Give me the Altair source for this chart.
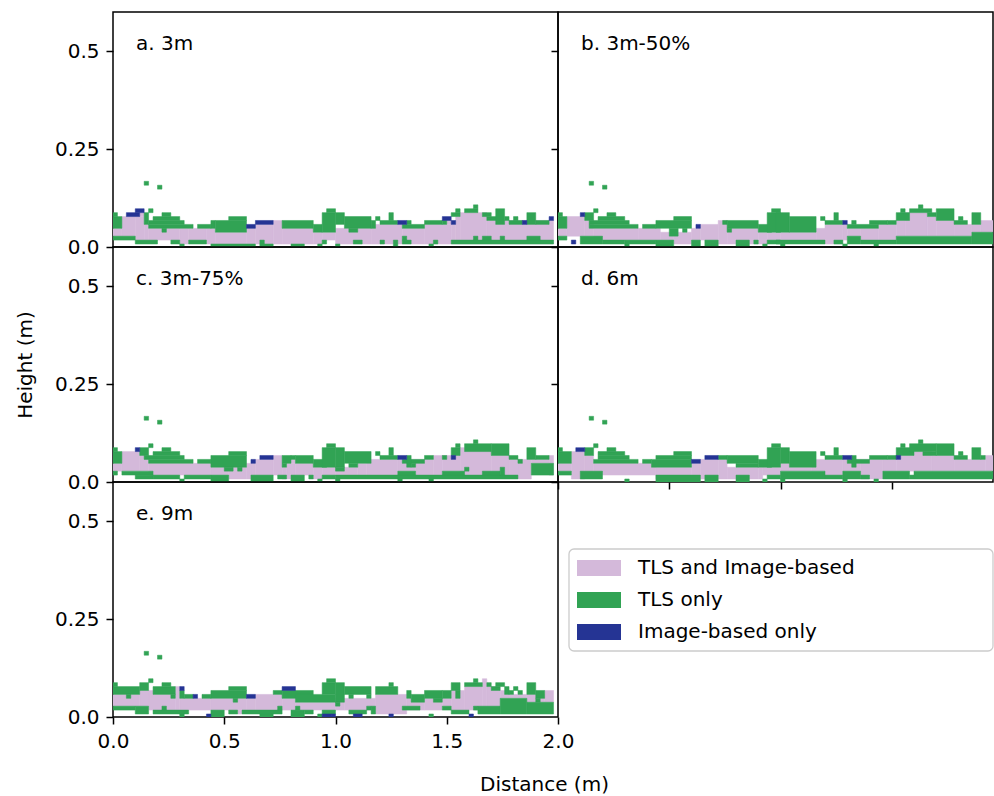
import altair as alt
import pandas as pd

FONT = "DejaVu Sans"

# grid geometry (metres)
CELL_W = 0.02
CELL_H = 0.01
GRID_Y0 = -0.0023

CLASSES = ["TLS and Image-based", "TLS only", "Image-based only"]
COLORS = ["#d4b9da", "#31a354", "#253494"]
PANEL_LABELS = {"a": "a. 3m", "b": "b. 3m-50%", "c": "c. 3m-75%", "d": "d. 6m", "e": "e. 9m"}

Y_TICKS = [0, 0.25, 0.5]
X_TICKS = [0, 0.5, 1.0, 1.5, 2.0]
X_TICKS_D = [0, 0.5, 1.0, 1.5]
Y_MAX = 0.6
X_MAX_LEFT = 2.0
X_MAX_RIGHT = 1.955

# runs of cells: (first column, last column, first row, last row)
OUTLIERS = [(7, 7, 16, 16), (10, 10, 15, 15)]

A_BOTH = [(0, 1, 3, 4), (2, 4, 3, 7), (5, 6, 2, 7), (6, 6, 8, 8), (7, 7, 2, 5), (8, 14, 2, 4), (15, 16, 1, 4),
          (17, 20, 2, 4), (21, 22, 1, 4), (23, 29, 1, 3), (30, 31, 1, 4), (32, 35, 1, 5), (36, 37, 1, 6),
          (38, 44, 1, 4), (45, 46, 1, 3), (47, 49, 2, 3), (50, 57, 1, 4), (58, 64, 1, 5), (65, 69, 1, 4),
          (70, 75, 1, 5), (75, 75, 6, 6), (76, 76, 1, 5), (77, 77, 1, 7), (78, 83, 1, 8), (84, 98, 1, 6)]
A_TLS = [(0, 1, 5, 7), (0, 0, 8, 8), (7, 7, 6, 8), (8, 8, 9, 9), (8, 17, 5, 5), (8, 15, 6, 6), (9, 14, 7, 7),
         (11, 12, 8, 8), (11, 11, 4, 4), (19, 21, 5, 5), (22, 22, 5, 6), (23, 29, 4, 6), (26, 29, 7, 7),
         (38, 44, 5, 6), (45, 46, 4, 5), (47, 49, 4, 8), (48, 49, 9, 9), (50, 51, 6, 8), (52, 57, 5, 7),
         (53, 54, 4, 4), (58, 58, 5, 6), (59, 59, 7, 7), (60, 63, 6, 6), (62, 62, 7, 8), (65, 69, 5, 5),
         (66, 66, 6, 6), (70, 73, 6, 6), (74, 74, 6, 6), (76, 77, 8, 8), (77, 77, 9, 9), (79, 81, 9, 9),
         (81, 81, 10, 10), (83, 84, 8, 8), (84, 86, 7, 7), (86, 87, 6, 9), (88, 88, 7, 7), (89, 91, 6, 6),
         (90, 90, 7, 7), (93, 94, 6, 8), (95, 97, 6, 6),
         (0, 4, 2, 2), (5, 9, 1, 1), (13, 14, 1, 1), (15, 15, 0, 0), (17, 20, 1, 1), (22, 31, 0, 0),
         (33, 33, 1, 1), (33, 35, 0, 0), (40, 42, 0, 0), (46, 46, 0, 0), (47, 47, 1, 1), (50, 50, 0, 0),
         (54, 55, 1, 1), (60, 60, 1, 1), (63, 63, 0, 1), (65, 66, 1, 1), (65, 65, 2, 2), (71, 71, 0, 0),
         (72, 72, 1, 1), (76, 98, 1, 1), (81, 81, 2, 2), (83, 84, 2, 2), (87, 87, 2, 2), (93, 95, 2, 2)] + OUTLIERS
A_IMG = [(3, 5, 8, 8), (5, 6, 9, 9), (30, 31, 5, 5), (32, 35, 6, 6), (64, 65, 6, 6), (74, 75, 7, 7),
         (76, 76, 6, 6), (92, 92, 6, 6), (98, 98, 7, 7)]

B_BOTH = [(0, 1, 3, 4), (2, 5, 3, 7), (6, 7, 3, 6), (8, 17, 2, 4), (18, 22, 2, 4), (23, 25, 2, 3), (26, 29, 1, 3),
          (30, 31, 2, 4), (32, 35, 2, 5), (36, 37, 1, 6), (38, 44, 1, 4), (45, 46, 1, 3), (47, 49, 2, 3),
          (50, 57, 2, 3), (58, 59, 2, 4), (60, 63, 1, 5), (64, 64, 2, 5), (65, 67, 3, 4), (68, 71, 2, 4),
          (72, 75, 2, 5), (76, 77, 3, 6), (78, 82, 3, 8), (83, 84, 3, 7), (85, 88, 3, 6), (89, 92, 3, 5),
          (93, 94, 4, 5), (95, 98, 4, 6)]
B_TLS = [(0, 1, 5, 7), (0, 0, 8, 8), (6, 7, 7, 8), (8, 8, 9, 9), (7, 17, 5, 5), (7, 15, 6, 6), (9, 14, 7, 7),
         (11, 12, 8, 8), (19, 21, 5, 5), (22, 29, 5, 6), (26, 29, 7, 7), (25, 26, 3, 4), (28, 28, 4, 4),
         (37, 37, 6, 6), (38, 44, 5, 6), (38, 38, 4, 4), (45, 47, 4, 5), (47, 49, 4, 8), (48, 49, 9, 9),
         (49, 51, 4, 8), (52, 57, 4, 7), (59, 59, 7, 7), (60, 63, 6, 6), (62, 62, 7, 8), (65, 71, 5, 5),
         (66, 66, 6, 6), (70, 73, 6, 6), (74, 75, 6, 6), (76, 78, 7, 8), (77, 77, 9, 9), (79, 83, 9, 9),
         (81, 81, 10, 10), (83, 84, 8, 8), (85, 88, 7, 9), (89, 91, 6, 6), (90, 90, 7, 7), (93, 94, 6, 8),
         (0, 1, 2, 2), (5, 9, 1, 2), (10, 14, 1, 1), (15, 15, 0, 0), (15, 21, 1, 1), (22, 25, 0, 1),
         (30, 31, 0, 1), (33, 35, 0, 1), (40, 42, 0, 1), (44, 44, 1, 1), (46, 46, 0, 0), (47, 49, 1, 1),
         (49, 59, 1, 1), (50, 50, 0, 0), (62, 63, 1, 1), (64, 64, 0, 0), (65, 67, 1, 2), (68, 75, 1, 1),
         (71, 71, 0, 0), (76, 92, 1, 2), (93, 98, 1, 3)] + OUTLIERS
B_IMG = [(5, 5, 8, 8), (3, 3, 1, 1), (31, 31, 5, 5), (64, 64, 6, 6)]

C_BOTH = [(0, 1, 3, 4), (2, 5, 3, 7), (6, 7, 3, 6), (8, 21, 2, 4), (22, 25, 2, 3), (26, 29, 1, 3), (30, 30, 1, 4),
          (31, 31, 2, 4), (32, 35, 2, 5), (36, 37, 2, 6), (38, 38, 1, 3), (39, 40, 1, 4), (40, 40, 5, 5),
          (41, 44, 2, 4), (45, 46, 1, 3), (47, 49, 2, 3),
          (50, 54, 2, 3), (55, 56, 2, 4), (57, 63, 2, 5), (64, 67, 3, 5), (68, 71, 2, 5), (72, 73, 2, 6),
          (74, 77, 3, 6), (78, 84, 2, 8), (85, 88, 2, 6), (89, 90, 2, 5), (91, 93, 1, 5), (94, 97, 5, 5),
          (98, 98, 2, 6)]
C_TLS = [(0, 1, 5, 7), (0, 0, 8, 8), (6, 7, 7, 8), (8, 8, 9, 9), (8, 17, 5, 5), (7, 15, 6, 6), (9, 14, 7, 7),
         (11, 12, 8, 8), (19, 21, 5, 5), (22, 29, 4, 6), (26, 29, 7, 7), (25, 26, 3, 3), (28, 28, 3, 3),
         (38, 39, 5, 6), (40, 40, 6, 6), (41, 44, 5, 6), (38, 38, 4, 4), (45, 47, 4, 5), (47, 49, 4, 8),
         (48, 49, 9, 9), (50, 51, 4, 8), (52, 57, 5, 7), (53, 54, 4, 4), (59, 59, 7, 7), (60, 63, 6, 6),
         (62, 62, 7, 8), (65, 69, 5, 5), (66, 66, 4, 6), (67, 67, 4, 4), (70, 71, 6, 6), (74, 74, 6, 6),
         (76, 77, 7, 8), (77, 77, 9, 9), (79, 84, 8, 9), (81, 81, 10, 10), (85, 88, 7, 9), (89, 90, 6, 6),
         (91, 91, 5, 5), (93, 94, 6, 8), (95, 97, 6, 6),
         (0, 0, 2, 2), (2, 8, 2, 2), (5, 8, 1, 1), (9, 14, 1, 1), (15, 15, 0, 0), (16, 21, 1, 1),
         (22, 25, 0, 1), (31, 35, 0, 1), (37, 38, 1, 1), (40, 42, 0, 1), (44, 44, 1, 1), (46, 46, 0, 0),
         (47, 49, 1, 1), (50, 51, 3, 3), (50, 90, 1, 1), (64, 67, 2, 2), (74, 78, 2, 2), (83, 86, 2, 2),
         (79, 79, 3, 3), (87, 87, 2, 3), (94, 98, 2, 4), (50, 50, 0, 0), (64, 64, 0, 0), (71, 71, 0, 0)] + OUTLIERS
C_IMG = [(5, 5, 8, 8), (31, 31, 5, 5), (33, 35, 6, 6), (64, 65, 6, 6), (76, 76, 6, 6)]

D_BOTH = [(0, 2, 3, 4), (3, 5, 1, 7), (6, 7, 2, 6), (8, 21, 2, 4), (22, 29, 1, 3), (30, 31, 1, 4), (32, 35, 1, 5),
          (36, 37, 1, 5), (38, 44, 1, 3), (45, 45, 1, 3), (46, 49, 2, 3),
          (50, 51, 3, 4), (52, 56, 3, 3), (57, 59, 3, 5), (60, 63, 2, 5), (64, 67, 3, 5), (68, 72, 1, 5),
          (73, 75, 3, 5), (76, 79, 3, 6), (80, 83, 3, 7), (84, 88, 3, 6), (89, 95, 3, 5), (96, 98, 3, 6)]
D_TLS = [(0, 2, 5, 7), (0, 0, 8, 8), (6, 7, 7, 8), (8, 8, 9, 9), (8, 17, 5, 5), (9, 15, 6, 6), (9, 14, 7, 7),
         (11, 12, 8, 8), (19, 20, 5, 5), (21, 29, 4, 5), (22, 29, 6, 6), (26, 29, 7, 7), (36, 37, 6, 6),
         (38, 44, 5, 6), (40, 44, 4, 4), (45, 47, 4, 5), (47, 49, 4, 8), (48, 49, 9, 9),
         (50, 51, 5, 8), (52, 57, 4, 7), (59, 59, 7, 7), (60, 63, 6, 6), (62, 62, 7, 8), (65, 69, 5, 5),
         (66, 66, 4, 6), (70, 73, 6, 6), (74, 75, 6, 6), (76, 79, 7, 8), (77, 77, 9, 9), (79, 84, 8, 9),
         (81, 81, 10, 10), (82, 84, 7, 7), (85, 88, 7, 9), (89, 91, 6, 6), (90, 90, 7, 7), (93, 94, 6, 8),
         (95, 95, 6, 6),
         (0, 2, 2, 2), (5, 9, 1, 2), (15, 15, 0, 0), (22, 31, 0, 1), (33, 35, 0, 1), (40, 42, 0, 1),
         (46, 46, 0, 0), (47, 49, 1, 1), (50, 59, 1, 2), (60, 63, 1, 1), (64, 67, 1, 2), (68, 69, 1, 1),
         (73, 78, 1, 2), (79, 79, 1, 1), (80, 98, 1, 2), (50, 50, 0, 0), (64, 64, 0, 0), (71, 71, 0, 0)] + OUTLIERS
D_IMG = [(4, 5, 8, 8), (30, 31, 5, 5), (33, 35, 6, 6), (64, 65, 6, 6), (76, 76, 6, 6)]

E_BOTH = [(0, 5, 3, 5), (6, 8, 3, 6), (8, 13, 2, 5), (14, 14, 2, 7), (15, 21, 2, 4), (22, 29, 2, 4), (28, 28, 1, 1),
          (30, 31, 2, 4), (32, 37, 2, 5), (38, 40, 2, 4), (41, 49, 2, 3),
          (50, 51, 2, 4), (52, 58, 2, 4), (59, 65, 1, 5), (66, 69, 2, 4), (70, 73, 2, 4), (74, 75, 3, 4),
          (76, 78, 2, 6), (79, 82, 2, 7), (83, 83, 2, 9), (84, 86, 2, 7), (87, 88, 5, 6), (89, 92, 5, 5),
          (93, 96, 4, 5), (97, 98, 4, 6)]
E_TLS = [(0, 0, 8, 8), (0, 5, 6, 7), (3, 3, 5, 5), (6, 7, 7, 8), (8, 8, 9, 9), (9, 13, 6, 7), (11, 12, 8, 8),
         (13, 13, 5, 5), (15, 15, 5, 6), (16, 17, 5, 5), (20, 21, 5, 5), (22, 29, 5, 6), (26, 29, 7, 7),
         (27, 27, 4, 4), (36, 37, 6, 6), (38, 44, 5, 6), (41, 49, 4, 5), (47, 49, 6, 8), (48, 49, 9, 9),
         (50, 51, 4, 8), (52, 57, 6, 7), (53, 53, 5, 5), (57, 57, 5, 5), (59, 63, 6, 7), (62, 62, 8, 8),
         (66, 66, 5, 6), (67, 69, 4, 5), (70, 73, 5, 6), (72, 73, 4, 4), (74, 75, 5, 6), (76, 77, 7, 8),
         (77, 77, 5, 6), (79, 82, 8, 8), (81, 81, 9, 9), (84, 84, 8, 8), (85, 86, 7, 7), (86, 87, 8, 8),
         (88, 88, 6, 7), (89, 89, 6, 6), (90, 90, 7, 7), (91, 91, 6, 6), (93, 94, 6, 8), (95, 96, 5, 6),
         (0, 4, 2, 2), (5, 7, 1, 2), (9, 16, 1, 1), (11, 11, 2, 2), (15, 15, 0, 0), (22, 24, 0, 1),
         (26, 27, 1, 1), (29, 37, 1, 1), (33, 35, 0, 0), (37, 37, 2, 2), (40, 42, 0, 1), (41, 41, 2, 2),
         (43, 44, 1, 1), (46, 46, 0, 0), (47, 49, 1, 1), (50, 50, 3, 3), (53, 56, 1, 1), (57, 57, 2, 2),
         (58, 58, 1, 2), (65, 68, 2, 2), (71, 71, 0, 0), (74, 75, 2, 2), (76, 79, 1, 1), (81, 81, 2, 2),
         (82, 86, 1, 2), (87, 92, 1, 4), (93, 98, 1, 3), (95, 95, 4, 4)] + OUTLIERS
E_IMG = [(15, 15, 7, 7), (18, 18, 5, 5), (30, 31, 5, 5), (38, 40, 7, 7), (21, 21, 0, 0), (47, 48, 0, 0),
         (49, 49, 0, 0), (54, 55, 0, 0), (62, 62, 0, 0), (80, 80, 0, 0)]

PANEL_RUNS = {
    "a": (A_BOTH, A_TLS, A_IMG),
    "b": (B_BOTH, B_TLS, B_IMG),
    "c": (C_BOTH, C_TLS, C_IMG),
    "d": (D_BOTH, D_TLS, D_IMG),
    "e": (E_BOTH, E_TLS, E_IMG),
}

rows = []
for key, groups in PANEL_RUNS.items():
    for order, (cls, runs) in enumerate(zip(CLASSES, groups)):
        for c0, c1, r0, r1 in runs:
            rows.append({
                "panel": key, "cls": cls, "order": order,
                "x": c0 * CELL_W, "x2": (c1 + 1) * CELL_W,
                "y": GRID_Y0 + r0 * CELL_H, "y2": GRID_Y0 + (r1 + 1) * CELL_H,
            })
cells = pd.DataFrame(rows).sort_values("order", kind="stable")

LEFT_W, RIGHT_W, PANEL_H = 445, 435, 235

color_scale = alt.Scale(domain=CLASSES, range=COLORS)
legend = alt.Legend(
    title=None, orient="none", direction="vertical", legendX=464, legendY=534,
    symbolType="M-1,-0.36H1V0.36H-1Z", symbolSize=1936, symbolStrokeWidth=0, symbolOpacity=1,
    labelFont=FONT, labelFontSize=20, labelColor="black", labelOffset=17, rowPadding=-12,
    padding=0, labelLimit=400,
)

Y_LABEL_EXPR = "datum.value == 0.25 ? '0.25' : format(datum.value, '.1f')"


def y_axis(labels, title=None):
    if labels and title:
        return alt.Axis(values=Y_TICKS, labelExpr=Y_LABEL_EXPR, title=title, titlePadding=19)
    if labels:
        return alt.Axis(values=Y_TICKS, labelExpr=Y_LABEL_EXPR, title=None)
    return alt.Axis(values=Y_TICKS, labels=False, title=None)


def panel(key, width, xmax, x_axis, yax):
    data = cells[cells.panel == key]
    rects = alt.Chart(data).mark_rect(clip=True, strokeWidth=0.5).encode(
        x=alt.X("x:Q", scale=alt.Scale(domain=[0, xmax], nice=False, zero=False), axis=x_axis),
        x2="x2:Q",
        y=alt.Y("y:Q", scale=alt.Scale(domain=[0, Y_MAX], nice=False, zero=False), axis=yax),
        y2="y2:Q",
        color=alt.Color("cls:N", scale=color_scale, legend=legend),
        stroke=alt.Stroke("cls:N", scale=color_scale, legend=None),
        order=alt.Order("order:Q"),
    )
    label = alt.Chart(pd.DataFrame({"label": [PANEL_LABELS[key]]})).mark_text(
        align="left", baseline="middle", font=FONT, fontSize=20, color="black"
    ).encode(x=alt.value(23), y=alt.value(32), text="label:N")
    return alt.layer(rects, label).properties(width=width, height=PANEL_H)


x_axis_e = alt.Axis(values=X_TICKS, format=".1f", title="Distance (m)", titleX=431, titleY=57,
                    titleAlign="center", titleBaseline="top")
x_axis_d = alt.Axis(values=X_TICKS_D, labels=False, title=None)

pa = panel("a", LEFT_W, X_MAX_LEFT, None, y_axis(True))
pb = panel("b", RIGHT_W, X_MAX_RIGHT, None, y_axis(False))
pc = panel("c", LEFT_W, X_MAX_LEFT, None, y_axis(True, "Height (m)"))
pd_ = panel("d", RIGHT_W, X_MAX_RIGHT, x_axis_d, y_axis(False))
pe = panel("e", LEFT_W, X_MAX_LEFT, x_axis_e, y_axis(True))

frame = alt.Chart(pd.DataFrame({"box": [0]})).mark_rect(
    fill="white", fillOpacity=0.8, stroke="#cccccc", strokeWidth=1.3, cornerRadius=5
).encode(
    x=alt.value(11), x2=alt.value(435), y=alt.value(67), y2=alt.value(169)
).properties(width=RIGHT_W, height=PANEL_H, view=alt.ViewBackground(strokeOpacity=0))

chart = alt.concat(
    pa, pb, pc, pd_, pe, frame,
    columns=2, spacing=0, bounds="flush",
).properties(
    padding={"left": 14, "top": 11, "right": 0, "bottom": 0},
    background="white",
).configure_view(
    stroke="black", strokeWidth=1.5
).configure_axis(
    domain=False, grid=False, tickColor="black", tickSize=7, tickWidth=1.5,
    labelFont=FONT, labelFontSize=20, labelColor="black", labelPadding=7, labelFlush=False,
    titleFont=FONT, titleFontSize=20, titleFontWeight="normal", titleColor="black",
)

chart.save("out.html", embed_options={"renderer": "svg", "actions": False})
